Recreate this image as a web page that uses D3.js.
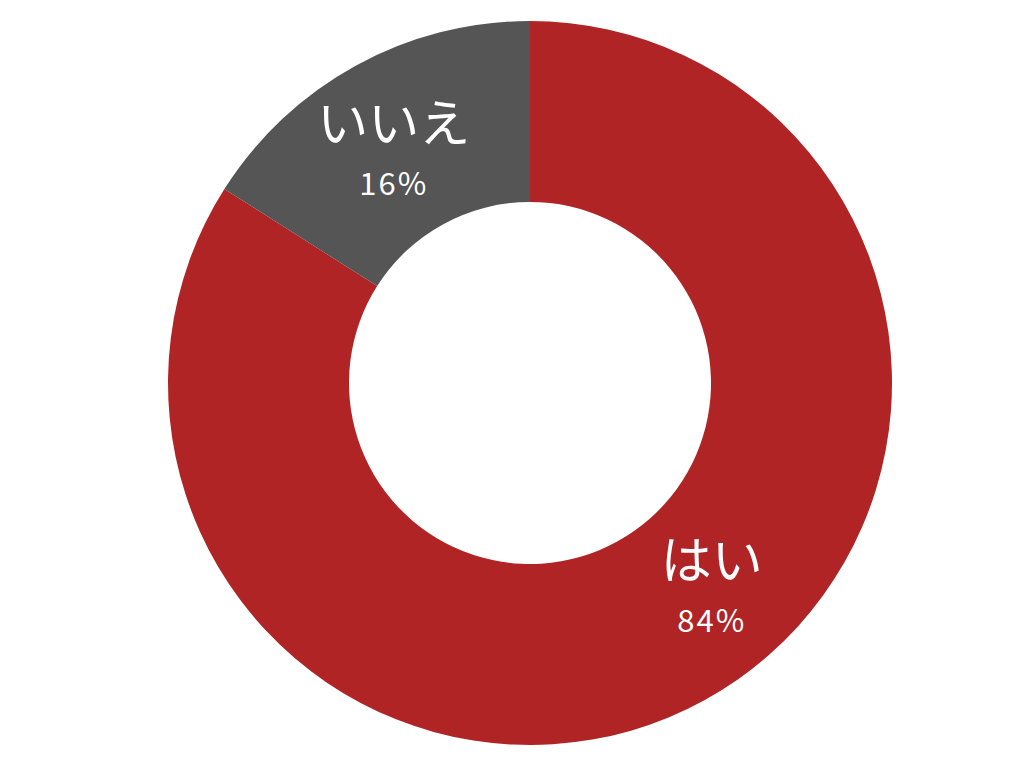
<!DOCTYPE html>
<html>
<head>
<meta charset="utf-8">
<script src="https://cdn.jsdelivr.net/npm/d3@7"></script>
<style>
  html, body { margin: 0; padding: 0; background: #fff; }
  svg text { font-family: "Noto Sans CJK JP", "Noto Sans", sans-serif; fill: #fff; }
</style>
</head>
<body>
<div id="area"></div>
<script>
// chart data
var labels = ["はい", "いいえ"];
var values = [84, 16];
var colors = ["#b02425", "#555555"];

var width = 1024, height = 768;
var cx = 530, cy = 383;
var outerR = 362, innerR = 181;

var svg = d3.select("#area")
    .append("svg")
    .attr("width", width)
    .attr("height", height)
    .append("g")
    .attr("transform", "translate(" + cx + "," + cy + ")");

var pie = d3.pie().sort(null).value(function (d) { return d; });
var arcs = pie(values);

var arc = d3.arc().innerRadius(innerR).outerRadius(outerR);

svg.selectAll("path.slice")
    .data(arcs)
    .enter()
    .append("path")
    .attr("class", "slice")
    .attr("d", arc)
    .attr("fill", function (d, i) { return colors[i]; });

// label anchor: a bit before the slice middle, mid ring
var labelR = (innerR + outerR) / 2;
function labelPos(d) {
    var a = d.startAngle + 0.46 * (d.endAngle - d.startAngle);
    return [labelR * Math.sin(a) + 4, -labelR * Math.cos(a)];
}

var lab = svg.selectAll("g.lab")
    .data(arcs)
    .enter()
    .append("g")
    .attr("class", "lab")
    .attr("transform", function (d) { return "translate(" + labelPos(d) + ")"; });

lab.append("text")
    .attr("text-anchor", "middle")
    .attr("y", -9)
    .style("font-size", "51px")
    .text(function (d, i) { return labels[i]; });

lab.append("text")
    .attr("text-anchor", "middle")
    .attr("y", 44)
    .style("font-size", "31px")
    .style("letter-spacing", "2px")
    .text(function (d, i) { return values[i] + "%"; });
</script>
</body>
</html>
